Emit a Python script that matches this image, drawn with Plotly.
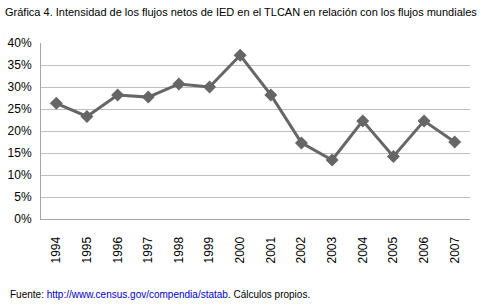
import plotly.graph_objects as go

years = ["1994", "1995", "1996", "1997", "1998", "1999", "2000",
         "2001", "2002", "2003", "2004", "2005", "2006", "2007"]
values = [0.263, 0.233, 0.282, 0.277, 0.307, 0.300, 0.372,
          0.282, 0.173, 0.134, 0.223, 0.142, 0.223, 0.175]
y_ticks = [0, 0.05, 0.10, 0.15, 0.20, 0.25, 0.30, 0.35, 0.40]

FONT = "Liberation Sans Narrow, Arial Narrow, Liberation Sans, Arial, sans-serif"

fig = go.Figure()
fig.add_trace(go.Scatter(
    x=years, y=values, mode="lines+markers",
    line=dict(color="#666666", width=3),
    marker=dict(symbol="diamond", size=10, color="#666666"),
    showlegend=False,
))

fig.update_layout(
    width=486, height=305,
    margin=dict(l=41, r=16, t=43, b=86),
    paper_bgcolor="white", plot_bgcolor="white",
    font=dict(family=FONT, size=12, color="#000000"),
    xaxis=dict(
        type="category", range=[-0.5, 13.5], automargin=False,
        tickangle=-90, showgrid=False,
        showline=True, linecolor="#a6a6a6", linewidth=1,
        ticks="", tickfont=dict(size=12), ticklabelstandoff=12,
    ),
    yaxis=dict(
        range=[0, 0.40], tickvals=y_ticks, tickformat=".0%", automargin=False,
        showgrid=True, gridcolor="#bfbfbf", gridwidth=1,
        showline=True, linecolor="#a6a6a6", linewidth=1,
        zeroline=False, ticks="", tickfont=dict(size=12), ticklabelstandoff=6,
    ),
    annotations=[
        dict(text="Gráfica 4. Intensidad de los flujos netos de IED en el TLCAN en relación con los flujos mundiales",
             xref="paper", yref="paper", x=-38/429, y=1 + 31/176,
             xanchor="left", yanchor="middle", showarrow=False,
             font=dict(family=FONT, size=11, color="#000000")),
        dict(text="Fuente: <span style='color:#0000cc'>http://www.census.gov/compendia/statab</span>. Cálculos propios.",
             xref="paper", yref="paper", x=-33/429, y=-75/176,
             xanchor="left", yanchor="middle", showarrow=False,
             font=dict(family=FONT, size=10, color="#000000")),
    ],
)

fig.write_html("out.html", config={"displayModeBar": False},
               post_script="document.body.style.margin='0px';")
